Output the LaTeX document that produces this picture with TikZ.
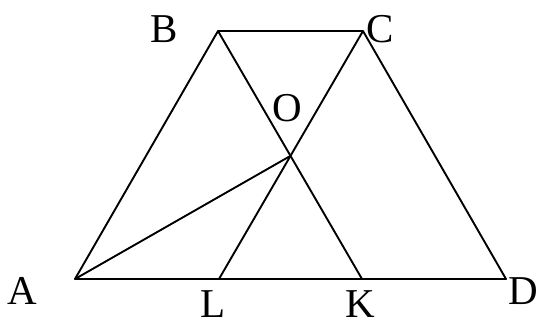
\documentclass[tikz,border=0pt]{standalone}
\usepackage{fontspec}
\setmainfont{Liberation Serif}
\begin{document}
\begin{tikzpicture}[x=1pt,y=-1pt,
  edge/.style={line width=1.9pt,line join=round},
  lbl/.style={anchor=base,inner sep=0pt,text depth=0pt,font=\fontsize{41}{41}\selectfont}]
\useasboundingbox (0,0) rectangle (541,323);
\coordinate (A) at (75,279);
\coordinate (B) at (218,31);
\coordinate (C) at (363,31);
\coordinate (D) at (506,279);
\coordinate (L) at (219,279);
\coordinate (K) at (362,279);
\coordinate (O) at (intersection of B--K and C--L);
\draw[edge] (A) -- (B) -- (C) -- (D) -- cycle;
\draw[edge] (B) -- (K);
\draw[edge] (C) -- (L);
\draw[edge] (A) -- (O);
\node[lbl] (tA) at (22.5,305) {A};
\node[lbl] (tB) at (164.5,43) {B};
\node[lbl] (tC) at (380.5,43) {C};
\node[lbl] (tO) at (287.5,122) {O};
\node[lbl] (tL) at (213.5,317.5) {L};
\node[lbl] (tK) at (360,317.5) {K};
\node[lbl] (tD) at (523.5,305) {D};
\end{tikzpicture}
\end{document}
